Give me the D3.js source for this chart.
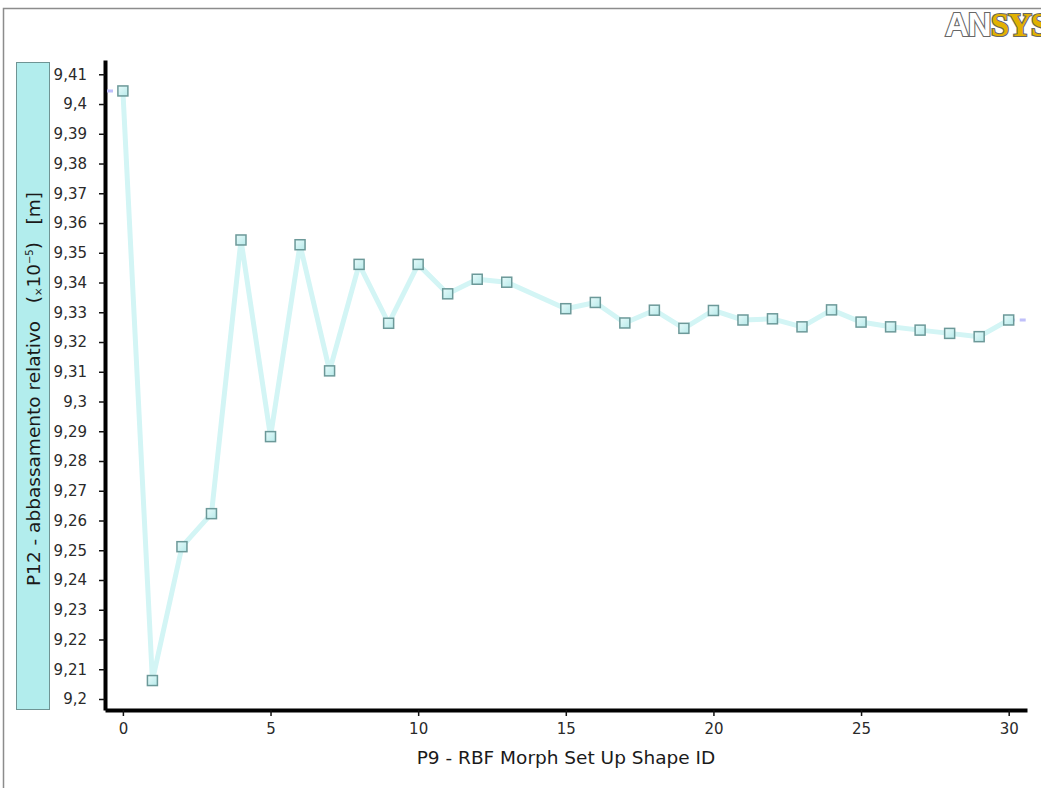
<!DOCTYPE html>
<html><head><meta charset="utf-8">
<script src="https://cdn.jsdelivr.net/npm/d3@7"></script>
<style>
body{margin:0;background:#fff;}
svg{display:block;font-family:"DejaVu Sans",sans-serif;}
</style>
</head><body>
<svg id="c" width="1041" height="788"></svg>
<script>
// ---- data ----
const shapeIds = [0,1,2,3,4,5,6,7,8,9,10,11,12,13,15,16,17,18,19,20,21,22,23,24,25,26,27,28,29,30];
const values = [9.4044,9.2062,9.2512,9.2623,9.3543,9.2882,9.3527,9.3103,9.3461,9.3263,9.3461,9.3362,9.3411,9.3401,
                9.3312,9.3333,9.3264,9.3307,9.3246,9.3306,9.3274,9.3278,9.3251,9.3308,9.3267,9.3251,9.3240,9.3229,9.3218,9.3274];
const xTicks = [0,5,10,15,20,25,30];
const yTicks = [9.20,9.21,9.22,9.23,9.24,9.25,9.26,9.27,9.28,9.29,9.30,9.31,9.32,9.33,9.34,9.35,9.36,9.37,9.38,9.39,9.40,9.41];
const yTickLabels = ["9,2","9,21","9,22","9,23","9,24","9,25","9,26","9,27","9,28","9,29","9,3","9,31","9,32","9,33","9,34","9,35","9,36","9,37","9,38","9,39","9,4","9,41"];
const xTitle = "P9 - RBF Morph Set Up Shape ID";
const yTitleMain = "P12 - abbassamento relativo   ";
const yTitleUnit = "   [m]";

const svg = d3.select("#c");

// frame
svg.append("path").attr("d","M3.5,788 V8.5 H1041").attr("fill","none").attr("stroke","#8c8c8c").attr("stroke-width",1.5);

// ANSYS logo
const logo = svg.append("text").attr("x",945).attr("y",36)
  .attr("font-family","'Liberation Sans',sans-serif").attr("font-weight","bold")
  .attr("font-size",33).attr("letter-spacing",-1)
  .attr("stroke","#666").attr("stroke-width",2.2).attr("paint-order","stroke");
logo.append("tspan").attr("fill","#ffffff").text("AN");
logo.append("tspan").attr("fill","#e2b100").attr("font-family","'Liberation Serif',serif").text("SYS");

// scales
const x = d3.scaleLinear().domain([-0.606, 30.62]).range([105, 1027]);
const y = d3.scaleLinear().domain([9.1963, 9.4148]).range([710, 60]);

// y title box
svg.append("rect").attr("x",16.5).attr("y",62.5).attr("width",33).attr("height",647)
  .attr("fill","#b2eded").attr("stroke","#6f9494").attr("stroke-width",1);
const yt = svg.append("text").attr("transform","translate(40,389) rotate(-90)")
  .attr("text-anchor","middle").attr("font-size",18.5).attr("fill","#1a1a1a")
  .style("white-space","pre");
yt.append("tspan").text(yTitleMain + "(");
yt.append("tspan").attr("font-size",10).attr("dy",2).text("×");
yt.append("tspan").attr("dy",-2).text("10");
yt.append("tspan").attr("font-size",10).attr("dy",-7).text("−5");
yt.append("tspan").attr("dy",7).text(")" + yTitleUnit);

// axes
const yAxis = svg.append("g").attr("transform","translate(105,0)")
  .call(d3.axisLeft(y).tickValues(yTicks).tickFormat((d,i)=>yTickLabels[i]).tickSize(6).tickSizeOuter(0).tickPadding(12));
const xAxis = svg.append("g").attr("transform","translate(0,710)")
  .call(d3.axisBottom(x).tickValues(xTicks).tickSize(6).tickSizeOuter(0).tickPadding(7));
[yAxis, xAxis].forEach(g=>{
  g.select(".domain").attr("stroke","#000").attr("stroke-width",4);
  g.selectAll(".tick line").attr("stroke","#111").attr("stroke-width",1.5);
  g.selectAll(".tick text").attr("font-size",15).attr("fill","#2a2a2a").attr("font-family","'DejaVu Sans',sans-serif");
});

// x title
svg.append("text").attr("x",566).attr("y",764).attr("text-anchor","middle")
  .attr("font-size",18.5).attr("fill","#1a1a1a").text(xTitle);

// dashed extension lines
const n = values.length;
svg.append("line").attr("x1",x.range()[0]+2).attr("x2",x(shapeIds[0]))
  .attr("y1",y(values[0])).attr("y2",y(values[0]))
  .attr("stroke","#c0c0fa").attr("stroke-width",3).attr("stroke-dasharray","6,6");
svg.append("line").attr("x1",x(shapeIds[n-1])).attr("x2",x.range()[1])
  .attr("y1",y(values[n-1])).attr("y2",y(values[n-1]))
  .attr("stroke","#c0c0fa").attr("stroke-width",3).attr("stroke-dasharray","6,5");

// series line
const pts = shapeIds.map((id,i)=>[id, values[i]]);
svg.append("path").datum(pts)
  .attr("d", d3.line().x(d=>x(d[0])).y(d=>y(d[1])))
  .attr("fill","none").attr("stroke","#d3f5f5").attr("stroke-width",5).attr("stroke-linejoin","round");

// markers
const defs = svg.append("defs");
const grad = defs.append("linearGradient").attr("id","mg").attr("x1",0).attr("y1",0).attr("x2",1).attr("y2",1);
grad.append("stop").attr("offset","0%").attr("stop-color","#e6fafa");
grad.append("stop").attr("offset","100%").attr("stop-color","#b8eaea");
svg.append("g").selectAll("rect").data(pts).join("rect")
  .attr("x",d=>x(d[0])-5).attr("y",d=>y(d[1])-5).attr("width",10).attr("height",10)
  .attr("fill","url(#mg)").attr("stroke","#6c9999").attr("stroke-width",1.5);
</script>
</body></html>
